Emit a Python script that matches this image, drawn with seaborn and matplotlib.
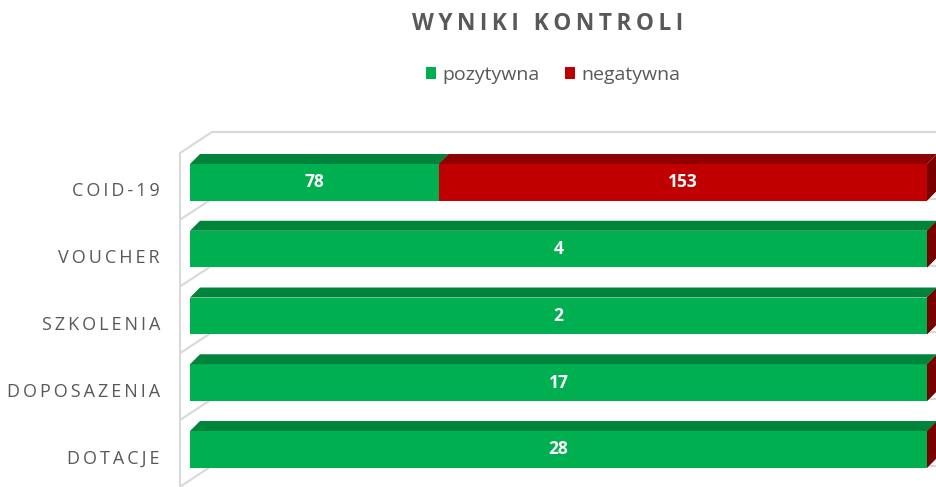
import numpy as np
import pandas as pd
import seaborn as sns
import matplotlib
matplotlib.use("Agg")
import matplotlib.pyplot as plt
import matplotlib.transforms as mtransforms
from matplotlib.patches import Polygon, Patch

# ---------------- data ----------------
categories = ["COID-19", "VOUCHER", "SZKOLENIA", "DOPOSAZENIA", "DOTACJE"]
pozytywna = [78, 4, 2, 17, 28]
negatywna = [153, 0, 0, 0, 0]
series_names = ["pozytywna", "negatywna"]
title_text = "WYNIKI KONTROLI"

# ---------------- style ----------------
sns.set_theme(style="white")
plt.rcParams["font.family"] = ["Open Sans", "DejaVu Sans"]
TXT = "#595959"
G_FRONT, G_TOP, G_SIDE = "#00B050", "#00843C", "#006B30"
R_FRONT, R_TOP, R_SIDE = "#C00000", "#8F0000", "#780000"
GRID = "#D9D9D9"

W, H = 937, 487
fig = plt.figure(figsize=(W / 100, H / 100), dpi=100)
ax_left, ax_right = 190, 927
ax_top, ax_bot = 149, 149 + 5 * 66.75
ax = fig.add_axes([ax_left / W, 1 - ax_bot / H, (ax_right - ax_left) / W, (ax_bot - ax_top) / H])

tot = np.array(pozytywna, float) + np.array(negatywna, float)
df = pd.DataFrame({
    "cat": categories,
    "pos_share": np.array(pozytywna) / tot,
    "total_share": (np.array(pozytywna) + np.array(negatywna)) / tot,
})

BW = 0.55
sns.barplot(data=df, x="total_share", y="cat", color=R_FRONT, saturation=1,
            width=BW, ax=ax, linewidth=0, zorder=3)
sns.barplot(data=df, x="pos_share", y="cat", color=G_FRONT, saturation=1,
            width=BW, ax=ax, linewidth=0, zorder=3)
ax.set_xlim(0, 1)
ax.set_ylim(4.5, -0.5)

# pixel -> data helpers
pxx = 1.0 / (ax_right - ax_left)
pxy = 1.0 / 66.75
DX, DY = 10 * pxx, 10 * pxy   # depth of bars

# ---------------- walls / gridlines ----------------
wall_front_x = (180 - ax_left) * pxx
wall_back_x = (212 - ax_left) * pxx
for k in range(len(categories) + 1):
    b = k - 0.5
    yf = b + 4 * pxy
    yb = b - 17 * pxy
    ax.plot([wall_front_x, wall_back_x], [yf, yb], color=GRID, lw=1.5,
            clip_on=False, zorder=1, solid_capstyle="butt")
    ax.plot([wall_back_x, (W + 5 - ax_left) * pxx], [yb, yb], color=GRID, lw=1.5,
            clip_on=False, zorder=1)
ax.plot([wall_front_x, wall_front_x], [-0.5 + 4 * pxy, 5.0], color=GRID, lw=1.5,
        clip_on=False, zorder=1)

# ---------------- 3D faces ----------------
red_c, green_c = ax.containers[0], ax.containers[1]
for i in range(len(categories)):
    gp = green_c.patches[i]
    rp = red_c.patches[i]
    yt = gp.get_y()                 # top edge (smaller y = higher)
    yb_ = gp.get_y() + gp.get_height()
    x0 = gp.get_x()
    x1 = gp.get_x() + gp.get_width()
    x2 = rp.get_x() + rp.get_width()
    # top faces
    ax.add_patch(Polygon([(x0, yt), (x1, yt), (x1 + DX, yt - DY), (x0 + DX, yt - DY)],
                         closed=True, fc=G_TOP, ec="none", clip_on=False, zorder=3))
    if x2 > x1:
        ax.add_patch(Polygon([(x1, yt), (x2, yt), (x2 + DX, yt - DY), (x1 + DX, yt - DY)],
                             closed=True, fc=R_TOP, ec="none", clip_on=False, zorder=3))
    # side faces (green then red, red is the outermost segment)
    ax.add_patch(Polygon([(x1, yt), (x1 + DX, yt - DY), (x1 + DX, yb_ - DY), (x1, yb_)],
                         closed=True, fc=G_SIDE, ec="none", clip_on=False, zorder=2.9))
    ax.add_patch(Polygon([(x2, yt), (x2 + DX, yt - DY), (x2 + DX, yb_ - DY), (x2, yb_)],
                         closed=True, fc=R_SIDE, ec="none", clip_on=False, zorder=3.1))
    # data labels
    yc = gp.get_y() + gp.get_height() / 2
    if pozytywna[i]:
        ax.text((x0 + x1) / 2, yc, str(pozytywna[i]), ha="center", va="center",
                color="white", fontsize=12.5, fontweight="bold", zorder=5)
    if negatywna[i]:
        ax.text((x1 + x2) / 2, yc, str(negatywna[i]), ha="center", va="center",
                color="white", fontsize=12.5, fontweight="bold", zorder=5)

# ---------------- axes cosmetics ----------------
for s in ax.spines.values():
    s.set_visible(False)
ax.set_xlabel("")
ax.set_ylabel("")
ax.set_xticks([])
ax.set_yticks(range(len(categories)))
ax.set_yticklabels(["\u2009".join(c) for c in categories], color=TXT, fontsize=13)
ax.tick_params(axis="y", length=0, pad=21.6)
shift = mtransforms.ScaledTranslation(0, -7 / 100, fig.dpi_scale_trans)
for lab in ax.get_yticklabels():
    lab.set_transform(lab.get_transform() + shift)
ax.set_facecolor("none")

# ---------------- title & legend ----------------
fig.text(548 / W, 1 - 24 / H, "\u2009".join(title_text), ha="center", va="center",
         fontsize=16.3, fontweight="bold", color=TXT)
handles = [Patch(fc=G_FRONT, ec="none"), Patch(fc=R_FRONT, ec="none")]
fig.legend(handles, series_names, loc="center", bbox_to_anchor=(553 / W, 1 - 75 / H),
           ncol=2, frameon=False, fontsize=14, labelcolor=TXT,
           handlelength=0.55, handleheight=0.55, handletextpad=0.3, columnspacing=1.3)

fig.savefig("out.png", dpi=100)
